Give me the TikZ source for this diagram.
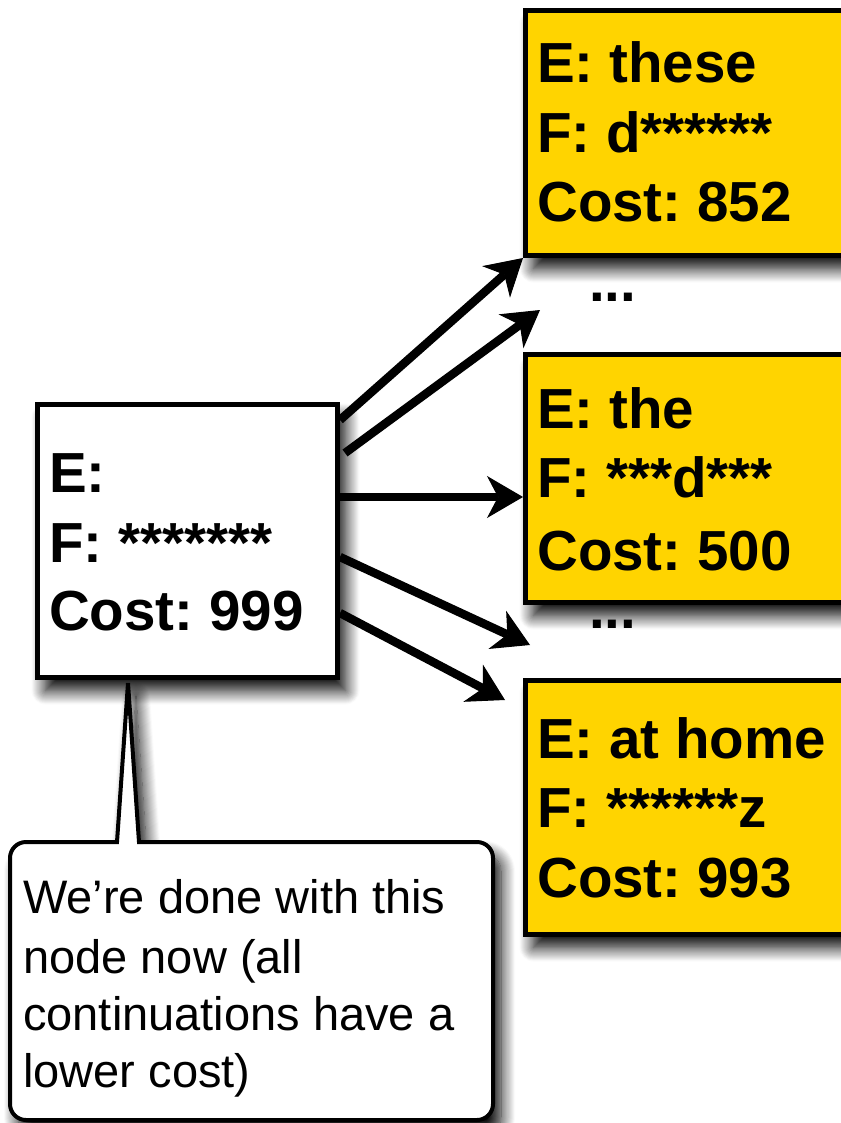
\documentclass[tikz,border=0pt]{standalone}
\usepackage{fontspec}
\setmainfont{Liberation Sans}
\frenchspacing
\usetikzlibrary{arrows.meta,shadows.blur,calc}
\definecolor{boxyellow}{RGB}{255,212,0}
\tikzset{
  shad/.style={blur shadow={shadow xshift=8pt, shadow yshift=-13pt, shadow blur radius=14pt, shadow opacity=100, shadow blur steps=14}},
  whitebox/.style={draw=black, line width=5pt, fill=white, shad, inner sep=0pt},
  yellowbox/.style={draw=black, line width=5pt, fill=boxyellow, shad, inner sep=0pt},
  boxtext/.style={anchor=base west, inner sep=0pt, font=\fontsize{56.5}{69}\selectfont\bfseries},
  notetext/.style={anchor=base west, inner sep=0pt, font=\fontsize{47}{58}\selectfont},
  conn/.style={line width=8.5pt, -{Stealth[length=36pt, width=42pt, inset=11pt, fill=black, line width=1pt]}},
  callout/.style={draw=black, line width=4pt, fill=white, shad, line join=miter},
}
\begin{document}
\begin{tikzpicture}[x=1pt,y=1pt]
\useasboundingbox (0,0) rectangle (840,-1123);
% callout
\coordinate (tip) at (128,-683);
\draw[callout] (117,-842) -- (tip) -- (139,-842) [rounded corners=16pt] -- (493,-842) -- (493,-1120) -- (10,-1120) -- (10,-842) [sharp corners] -- cycle;
\node[notetext] (n1) at (23,-913) {We’re done with this};
\node[notetext] (n2) at (23,-973) {node now (all};
\node[notetext] (n3) at (23,-1030) {continuations have a};
\node[notetext] (n4) at (23,-1087) {lower cost)};
% left box
\node[whitebox, minimum width=300pt, minimum height=273pt, anchor=north west] (L) at (35,-402) {};
\node[boxtext] (l1) at (49,-492) {E:};
\node[boxtext] (l2) at (49,-562) {F: *******};
\node[boxtext] (l3) at (49,-630) {Cost: 999};
% yellow boxes
\node[yellowbox, minimum width=340pt, minimum height=245pt, anchor=north west] (Y1) at (523,-8) {};
\node[boxtext] (y1a) at (537,-83) {E: these};
\node[boxtext] (y1b) at (537,-153) {F: d******};
\node[boxtext] (y1c) at (537,-222) {Cost: 852};
\node[yellowbox, minimum width=340pt, minimum height=248pt, anchor=north west] (Y2) at (523,-352) {};
\node[boxtext] (y2a) at (537,-428) {E: the};
\node[boxtext] (y2b) at (537,-497) {F: ***d***};
\node[boxtext] (y2c) at (537,-570) {Cost: 500};
\node[yellowbox, minimum width=340pt, minimum height=254pt, anchor=north west] (Y3) at (523,-678) {};
\node[boxtext] (y3a) at (537,-758) {E: at home};
\node[boxtext] (y3b) at (537,-827) {F: ******z};
\node[boxtext] (y3c) at (537,-897) {Cost: 993};
% dots
\node[boxtext] (d1) at (589,-301) {...};
\node[boxtext] (d2) at (589,-628) {...};
\coordinate (e2) at (540,-310);
\coordinate (e4) at (530,-645);
\coordinate (e5) at (505,-700);
% arrows
\draw[conn] ($(L.north east)+(0,-18)$) -- (Y1.south west);
\draw[conn] ($(L.north east)+(5,-51)$) -- (e2);
\draw[conn] ($(L.north east)+(0,-95)$) -- ($(Y2.north west)+(0,-145)$);
\draw[conn] ($(L.north east)+(0,-155)$) -- (e4);
\draw[conn] ($(L.north east)+(0,-211)$) -- (e5);
\end{tikzpicture}
\end{document}
